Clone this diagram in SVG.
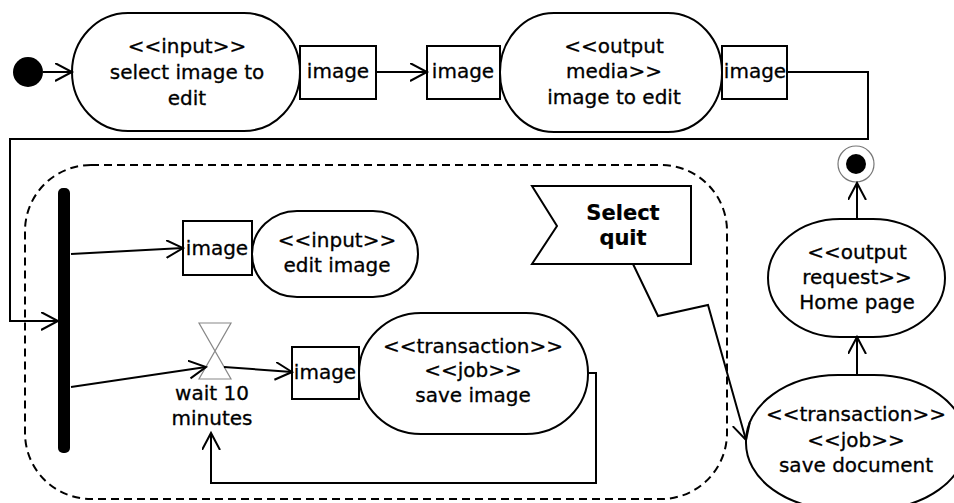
<svg xmlns="http://www.w3.org/2000/svg" width="954" height="503" viewBox="0 0 954 503">
  <style>
    .act { fill: #fff; stroke: #000; stroke-width: 2; }
    .obj { fill: #fff; stroke: #000; stroke-width: 2; }
    .edge { fill: none; stroke: #000; stroke-width: 2; }
    .t { font-family: "DejaVu Sans", Verdana, sans-serif; font-size: 20px; fill: #000; stroke: #000; stroke-width: 0.3; text-anchor: middle; }
    .b { font-weight: bold; font-size: 21px; stroke-width: 0.2; }
  </style>
  <defs>
    <marker id="open" markerUnits="userSpaceOnUse" markerWidth="20" markerHeight="20" refX="17" refY="9" orient="auto">
      <path d="M0,0 L17,9 L0,18" fill="none" stroke="#000" stroke-width="2"/>
    </marker>
  </defs>

  <!-- interruptible region -->
  <g id="region">
    <rect x="25" y="165" width="702" height="334" rx="66" ry="66" fill="none" stroke="#000" stroke-width="2" stroke-dasharray="8,5"/>
  </g>

  <g id="start">
    <circle cx="28" cy="72" r="15" fill="#000"/>
  </g>

  <g id="selectImage">
    <rect class="act" x="72" y="13" width="228" height="118" rx="56" ry="59"/>
    <text class="t" x="187" y="53">&lt;&lt;input&gt;&gt;</text>
    <text class="t" x="187" y="79">select image to</text>
    <text class="t" x="187" y="105">edit</text>
  </g>

  <g id="pinOut1">
    <rect class="obj" x="300" y="46" width="76" height="53"/>
    <text class="t" x="338" y="78">image</text>
  </g>

  <g id="pinIn2">
    <rect class="obj" x="427" y="46" width="73" height="53"/>
    <text class="t" x="463" y="78">image</text>
  </g>

  <g id="imageToEdit">
    <rect class="act" x="500" y="13" width="222" height="119" rx="54" ry="59"/>
    <text class="t" x="614" y="53">&lt;&lt;output</text>
    <text class="t" x="614" y="78">media&gt;&gt;</text>
    <text class="t" x="614" y="104">image to edit</text>
  </g>

  <g id="pinOut2">
    <rect class="obj" x="722" y="46" width="65" height="53"/>
    <text class="t" x="755" y="78">image</text>
  </g>

  <g id="fork">
    <rect x="58" y="188" width="12" height="265" rx="5" fill="#000"/>
  </g>

  <g id="pinIn3">
    <rect class="obj" x="183" y="221" width="69" height="54"/>
    <text class="t" x="217" y="255">image</text>
  </g>

  <g id="editImage">
    <rect class="act" x="252" y="211" width="166" height="86" rx="45" ry="43"/>
    <text class="t" x="337" y="247">&lt;&lt;input&gt;&gt;</text>
    <text class="t" x="337" y="272">edit image</text>
  </g>

  <g id="wait">
    <path d="M199,323 L231,323 L199,379 L231,379 Z" fill="#fff" stroke="#888" stroke-width="1.2"/>
    <text class="t" x="212" y="400">wait 10</text>
    <text class="t" x="212" y="425">minutes</text>
  </g>

  <g id="pinIn4">
    <rect class="obj" x="292" y="347" width="67" height="52"/>
    <text class="t" x="325" y="379">image</text>
  </g>

  <g id="saveImage">
    <rect class="act" x="359" y="313" width="229" height="121" rx="62" ry="60"/>
    <text class="t" x="473" y="353">&lt;&lt;transaction&gt;&gt;</text>
    <text class="t" x="473" y="377">&lt;&lt;job&gt;&gt;</text>
    <text class="t" x="473" y="402">save image</text>
  </g>

  <g id="selectQuit">
    <path d="M532,186 L691,186 L691,264 L532,264 L557,226 Z" fill="#fff" stroke="#000" stroke-width="2"/>
    <text class="t b" x="623" y="220">Select</text>
    <text class="t b" x="623" y="245">quit</text>
  </g>

  <g id="homePage">
    <rect class="act" x="768" y="219" width="177" height="118" rx="72" ry="59"/>
    <text class="t" x="857" y="259">&lt;&lt;output</text>
    <text class="t" x="857" y="284">request&gt;&gt;</text>
    <text class="t" x="857" y="309">Home page</text>
  </g>

  <g id="saveDocument">
    <rect class="act" x="746" y="375" width="220" height="134" rx="92" ry="66"/>
    <text class="t" x="856" y="421">&lt;&lt;transaction&gt;&gt;</text>
    <text class="t" x="856" y="447">&lt;&lt;job&gt;&gt;</text>
    <text class="t" x="856" y="472">save document</text>
  </g>

  <g id="end">
    <circle cx="856" cy="164" r="18" fill="#fff" stroke="#777" stroke-width="1.2"/>
    <circle cx="856" cy="164" r="10" fill="#000"/>
  </g>

  <g id="connectors">
    <path class="edge" d="M43,72 L72,72" marker-end="url(#open)"/>
    <path class="edge" d="M376,72 L427,72" marker-end="url(#open)"/>
    <path class="edge" d="M787,72 L868,72 L868,139 L10,139 L10,321 L58,321" marker-end="url(#open)"/>
    <path class="edge" d="M71,254 L183,248" marker-end="url(#open)"/>
    <path class="edge" d="M71,387 L206,367" marker-end="url(#open)"/>
    <path class="edge" d="M224,367 L292,372" marker-end="url(#open)"/>
    <path class="edge" d="M588,373 L596,373 L596,483 L211,483 L211,433" marker-end="url(#open)"/>
    <path class="edge" d="M633,264 L658,316 L708,305 L746,440" marker-end="url(#open)"/>
    <path class="edge" d="M857,375 L857,337" marker-end="url(#open)"/>
    <path class="edge" d="M857,219 L857,183" marker-end="url(#open)"/>
  </g>
</svg>
